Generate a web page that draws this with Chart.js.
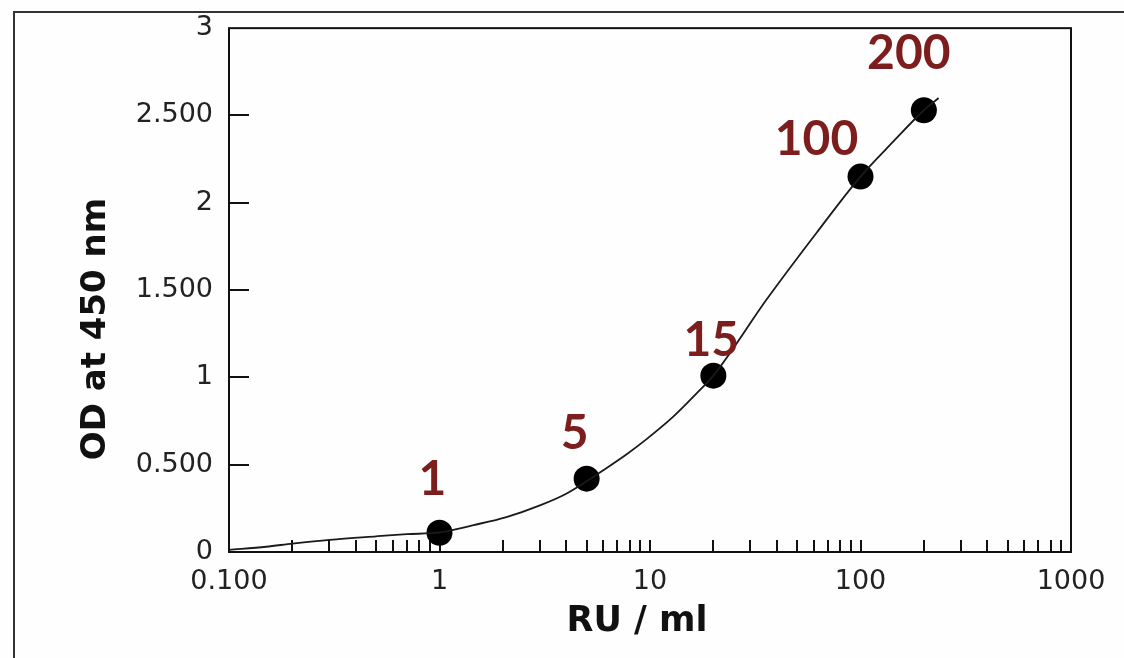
<!DOCTYPE html>
<html>
<head>
<meta charset="utf-8">
<script src="https://cdn.jsdelivr.net/npm/chart.js@4/dist/chart.umd.min.js"></script>
<style>
  html, body { margin: 0; padding: 0; background: #fefefe; }
  #wrap { width: 1124px; height: 658px; }
</style>
</head>
<body>
<div id="wrap"><canvas id="std" width="1124" height="658"></canvas></div>
<script>
// fitted standard curve
var curveX = [0.1, 0.15, 0.2, 0.3, 0.5, 0.7, 1, 1.45, 2.08, 3, 4, 5, 6.2, 7.75, 9.6, 12.9, 16.7, 20, 36, 62, 100, 143, 200, 235];
var curveY = [0.012, 0.03, 0.048, 0.07, 0.09, 0.102, 0.112, 0.154, 0.2, 0.267, 0.334, 0.405, 0.48, 0.56, 0.645, 0.775, 0.91, 1.01, 1.45, 1.83, 2.15, 2.35, 2.53, 2.6];

// calibrators
var stdConc = [1, 5, 20, 100, 200];
var stdOD = [0.11, 0.42, 1.01, 2.15, 2.53];
var stdLabels = ['1', '5', '15', '100', '200'];

// axes
var xDecades = [0.1, 1, 10, 100, 1000];
var xTickLabels = ['0.100', '1', '10', '100', '1000'];
var yTickLabels = ['0', '0.500', '1', '1.500', '2', '2.500', '3'];

var xTitle = 'RU / ml';
var yTitle = 'OD at 450 nm';

Chart.defaults.font.family = 'DejaVu Sans';
Chart.defaults.color = '#222';

// minor positions 1..9 in every decade
var xTickValues = [];
for (var d = 0; d < xDecades.length - 1; d++) {
    for (var k = 1; k <= 9; k++) xTickValues.push(+(k * xDecades[d]).toPrecision(6));
}
xTickValues.push(xDecades[xDecades.length - 1]);

// label placement relative to each point (dx, dy of glyph centre)
var labelOffsets = [[-7, -55], [-12, -47], [-2, -37], [-44, -39], [-15, -58]];

var decor = {
    id: 'decor',
    beforeDraw: function(chart) {
        var ctx = chart.ctx;
        ctx.save();
        ctx.fillStyle = '#fefefe';
        ctx.fillRect(0, 0, chart.width, chart.height);
        ctx.strokeStyle = '#333';
        ctx.lineWidth = 2;
        ctx.beginPath();
        ctx.moveTo(14, chart.height);
        ctx.lineTo(14, 12);
        ctx.lineTo(chart.width, 12);
        ctx.stroke();
        ctx.restore();
    },
    beforeDatasetsDraw: function(chart) {
        var ctx = chart.ctx, a = chart.chartArea;
        var x = chart.scales.x, y = chart.scales.y;
        ctx.save();
        ctx.strokeStyle = '#111';
        ctx.lineWidth = 2;
        ctx.strokeRect(a.left, a.top, a.right - a.left, a.bottom - a.top);
        ctx.beginPath();
        x.ticks.forEach(function(t) {
            if (t.value <= x.min || t.value >= x.max) return;
            var px = Math.round(x.getPixelForValue(t.value));
            ctx.moveTo(px, a.bottom);
            ctx.lineTo(px, a.bottom - 12);
        });
        y.ticks.forEach(function(t) {
            if (t.value <= y.min || t.value >= y.max) return;
            var py = Math.round(y.getPixelForValue(t.value));
            ctx.moveTo(a.left, py);
            ctx.lineTo(a.left + 20, py);
        });
        ctx.stroke();

        // axis titles
        ctx.fillStyle = '#111';
        ctx.font = 'bold 35px "DejaVu Sans"';
        ctx.textAlign = 'center';
        ctx.textBaseline = 'alphabetic';
        ctx.fillText(xTitle, 637, 631);
        ctx.translate(105, 329);
        ctx.rotate(-Math.PI / 2);
        ctx.font = 'bold 34px "DejaVu Sans"';
        ctx.fillText(yTitle, 0, 0);
        ctx.restore();
    },
    afterDatasetsDraw: function(chart) {
        var ctx = chart.ctx;
        var pts = chart.getDatasetMeta(1).data;
        ctx.save();
        ctx.fillStyle = '#7d1e1e';
        ctx.font = 'bold 48px Lato';
        ctx.textAlign = 'center';
        ctx.textBaseline = 'alphabetic';
        pts.forEach(function(p, i) {
            var o = labelOffsets[i];
            ctx.fillText(stdLabels[i], p.x + o[0], p.y + o[1] + 17);
        });
        ctx.restore();
    }
};

new Chart(document.getElementById('std'), {
    type: 'scatter',
    data: {
        datasets: [
            {
                data: curveX.map(function(v, i) { return { x: v, y: curveY[i] }; }),
                showLine: true,
                borderColor: '#1a1a1a',
                borderWidth: 1.8,
                cubicInterpolationMode: 'monotone',
                pointRadius: 0
            },
            {
                data: stdConc.map(function(v, i) { return { x: v, y: stdOD[i] }; }),
                showLine: false,
                pointRadius: 13,
                pointBackgroundColor: '#000',
                pointBorderWidth: 0
            }
        ]
    },
    options: {
        responsive: false,
        animation: false,
        layout: { padding: { left: 0, top: 25, right: 53, bottom: 0 } },
        plugins: { legend: { display: false }, tooltip: { enabled: false } },
        scales: {
            x: {
                type: 'logarithmic',
                min: 0.1,
                max: 1000,
                grid: { display: false, drawTicks: false },
                border: { display: false },
                afterBuildTicks: function(scale) {
                    scale.ticks = xTickValues.map(function(v) { return { value: v }; });
                },
                afterFit: function(scale) { scale.height = 106; },
                ticks: {
                    autoSkip: false,
                    maxRotation: 0,
                    padding: 14,
                    font: { size: 27 },
                    callback: function(v) {
                        for (var i = 0; i < xDecades.length; i++) {
                            if (Math.abs(v - xDecades[i]) < 1e-9) return xTickLabels[i];
                        }
                        return '';
                    }
                }
            },
            y: {
                min: 0,
                max: 3,
                grid: { display: false, drawTicks: false },
                border: { display: false },
                afterFit: function(scale) { scale.width = 229; },
                ticks: {
                    stepSize: 0.5,
                    padding: 16,
                    font: { size: 27, lineHeight: 0.9 },
                    callback: function(v) { return yTickLabels[Math.round(v * 2)]; }
                }
            }
        }
    },
    plugins: [decor]
});
</script>
</body>
</html>
